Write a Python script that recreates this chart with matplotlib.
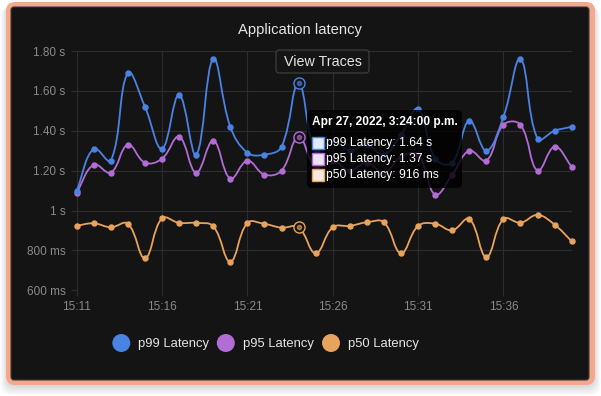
import numpy as np
import matplotlib
matplotlib.use("Agg")
import matplotlib.pyplot as plt
from matplotlib.path import Path
from matplotlib.patches import PathPatch, FancyBboxPatch, Circle, Rectangle

plt.rcParams["font.family"] = ["Liberation Sans", "DejaVu Sans"]

# --- data ---
times = ["15:11", "15:12", "15:13", "15:14", "15:15", "15:16", "15:17", "15:18",
         "15:19", "15:20", "15:21", "15:22", "15:23", "15:24", "15:25", "15:26",
         "15:27", "15:28", "15:29", "15:30", "15:31", "15:32", "15:33", "15:34",
         "15:35", "15:36", "15:37", "15:38", "15:39", "15:40"]
p99 = [1.10, 1.31, 1.25, 1.69, 1.52, 1.31, 1.58, 1.28, 1.76, 1.42,
       1.29, 1.28, 1.32, 1.64, 1.30, 1.35, 1.30, 1.33, 1.28, 1.38,
       1.51, 1.26, 1.24, 1.45, 1.30, 1.47, 1.76, 1.36, 1.40, 1.42]
p95 = [1.09, 1.23, 1.19, 1.33, 1.24, 1.26, 1.37, 1.19, 1.35, 1.16,
       1.25, 1.18, 1.20, 1.37, 1.22, 1.25, 1.20, 1.24, 1.19, 1.27,
       1.28, 1.08, 1.18, 1.30, 1.25, 1.43, 1.43, 1.20, 1.32, 1.22]
p50 = [0.924, 0.936, 0.916, 0.934, 0.761, 0.961, 0.938, 0.938, 0.921, 0.744,
       0.938, 0.933, 0.914, 0.916, 0.786, 0.916, 0.923, 0.941, 0.941, 0.786,
       0.923, 0.934, 0.901, 0.958, 0.767, 0.958, 0.939, 0.978, 0.929, 0.846]
series_names = ["p99 Latency", "p95 Latency", "p50 Latency"]
series_colors = ["#4a83e4", "#b26cd6", "#e8a35c"]
swatch_fill = ["#e2e8f4", "#ece2f1", "#f2e9e0"]

ytick_vals = [0.6, 0.8, 1.0, 1.2, 1.4, 1.6, 1.8]
ytick_labels = ["600 ms", "800 ms", "1 s", "1.20 s", "1.40 s", "1.60 s", "1.80 s"]
xtick_idx = [0, 5, 10, 15, 20, 25]
hover_idx = 13
tooltip_title = "Apr 27, 2022, 3:24:00 p.m."
tooltip_rows = ["p99 Latency: 1.64 s", "p95 Latency: 1.37 s", "p50 Latency: 916 ms"]

W, H = 601, 396
GRID = "#2d2d2d"
TICK_TXT = "#8a8a8a"
TXT = "#e4e4e4"

fig = plt.figure(figsize=(W / 100, H / 100), dpi=100)
fig.patch.set_facecolor("white")

# card background in pixel coords
bg = fig.add_axes([0, 0, 1, 1], zorder=0)
bg.set_xlim(0, W)
bg.set_ylim(H, 0)
bg.axis("off")
for k in range(6):
    bg.add_patch(FancyBboxPatch((6 - k, 4 + k * 0.6), 589 + 2 * k, 383 + k,
                                boxstyle="round,pad=0,rounding_size=10",
                                fc="black", ec="none", alpha=0.025))
bg.add_patch(FancyBboxPatch((6, 2), 589, 383, boxstyle="round,pad=0,rounding_size=9",
                            fc="#f7a88c", ec="none"))
bg.add_patch(FancyBboxPatch((11, 7), 578, 373, boxstyle="round,pad=0,rounding_size=3",
                            fc="#141414", ec="#3a3a3a", lw=0.8))
bg.text(300, 30, "Application latency", ha="center", va="center",
        fontsize=10.6, color=TXT)

# main chart
x0, x1, ytop, ybot = 76.7, 571.7, 51.0, 290.3
ax = fig.add_axes([x0 / W, 1 - ybot / H, (x1 - x0) / W, (ybot - ytop) / H], zorder=1)
ax.set_facecolor("none")
ax.set_xlim(0, len(times) - 1)
ax.set_ylim(0.6, 1.8)
for s in ax.spines.values():
    s.set_visible(False)
ax.set_xticks(xtick_idx, [times[i] for i in xtick_idx])
ax.set_yticks(ytick_vals, ytick_labels)
ax.tick_params(colors=GRID, labelcolor=TICK_TXT, labelsize=8.5, length=4.5, width=0.8)
ax.tick_params(axis="y", pad=3.5)
ax.tick_params(axis="x", pad=3.5)
ax.grid(True, color=GRID, lw=0.8)
ax.set_axisbelow(True)


def spline_path(ax, xs, ys, t=0.4):
    # same bezier control points as a tension-0.4 chart.js line
    pts = ax.transData.transform(np.column_stack([xs, ys]))
    n = len(pts)
    cps = []
    for i in range(n):
        prev = pts[max(i - 1, 0)]
        cur = pts[i]
        nxt = pts[min(i + 1, n - 1)]
        d01 = np.hypot(*(cur - prev))
        d12 = np.hypot(*(nxt - cur))
        tot = d01 + d12
        s01 = d01 / tot if tot else 0
        s12 = d12 / tot if tot else 0
        cps.append((cur - t * s01 * (nxt - prev), cur + t * s12 * (nxt - prev)))
    verts = [pts[0]]
    codes = [Path.MOVETO]
    for i in range(1, n):
        verts += [cps[i - 1][1], cps[i][0], pts[i]]
        codes += [Path.CURVE4] * 3
    verts = ax.transData.inverted().transform(np.array(verts))
    verts[:, 1] = np.clip(verts[:, 1], 0.6, 1.8)
    return Path(verts, codes)


xs = np.arange(len(times))
for vals, col in zip([p50, p95, p99], series_colors[::-1]):
    ax.add_patch(PathPatch(spline_path(ax, xs, vals), fc="none", ec=col,
                           lw=1.3, clip_on=False, zorder=3))
    ax.plot(xs, vals, "o", ms=3.6, color=col, clip_on=False, zorder=4)
    ax.plot(xs[hover_idx], vals[hover_idx], "o", ms=8, mfc="#141414", mec=col,
            mew=1.0, clip_on=False, zorder=5)
    ax.plot(xs[hover_idx], vals[hover_idx], "o", ms=3.0, color=col,
            clip_on=False, zorder=6, alpha=0.6)

# overlay: button, tooltip, legend
ov = fig.add_axes([0, 0, 1, 1], zorder=2)
ov.set_xlim(0, W)
ov.set_ylim(H, 0)
ov.axis("off")
ov.patch.set_alpha(0)

ov.add_patch(FancyBboxPatch((276, 50), 93, 23, boxstyle="round,pad=0,rounding_size=3",
                            fc="#161616", ec="#474747", lw=0.8, alpha=0.9))
ov.text(322.7, 62, "View Traces", ha="center", va="center", fontsize=10.3, color=TXT)

ov.add_patch(FancyBboxPatch((307, 110), 155, 78, boxstyle="round,pad=0,rounding_size=5",
                            fc=(0, 0, 0, 0.82), ec="none"))
ov.text(312, 122.5, tooltip_title, ha="left", va="center", fontsize=8.6,
        fontweight="bold", color="white")
for k, (row, col, fill) in enumerate(zip(tooltip_rows, series_colors, swatch_fill)):
    yc = 143.3 + k * 16
    ov.add_patch(Rectangle((312, yc - 6), 12, 12, fc=fill, ec=col, lw=1.0))
    ov.text(325.5, yc, row, ha="left", va="center", fontsize=8.7, color="white")

for cx, name, col in zip([121.3, 225.8, 331.0], series_names, series_colors):
    ov.add_patch(Circle((cx, 343), 9, fc=col, ec="none"))
    ov.text(cx + 17, 343.5, name, ha="left", va="center", fontsize=9.4, color=TXT)

fig.savefig("out.png", dpi=100)
